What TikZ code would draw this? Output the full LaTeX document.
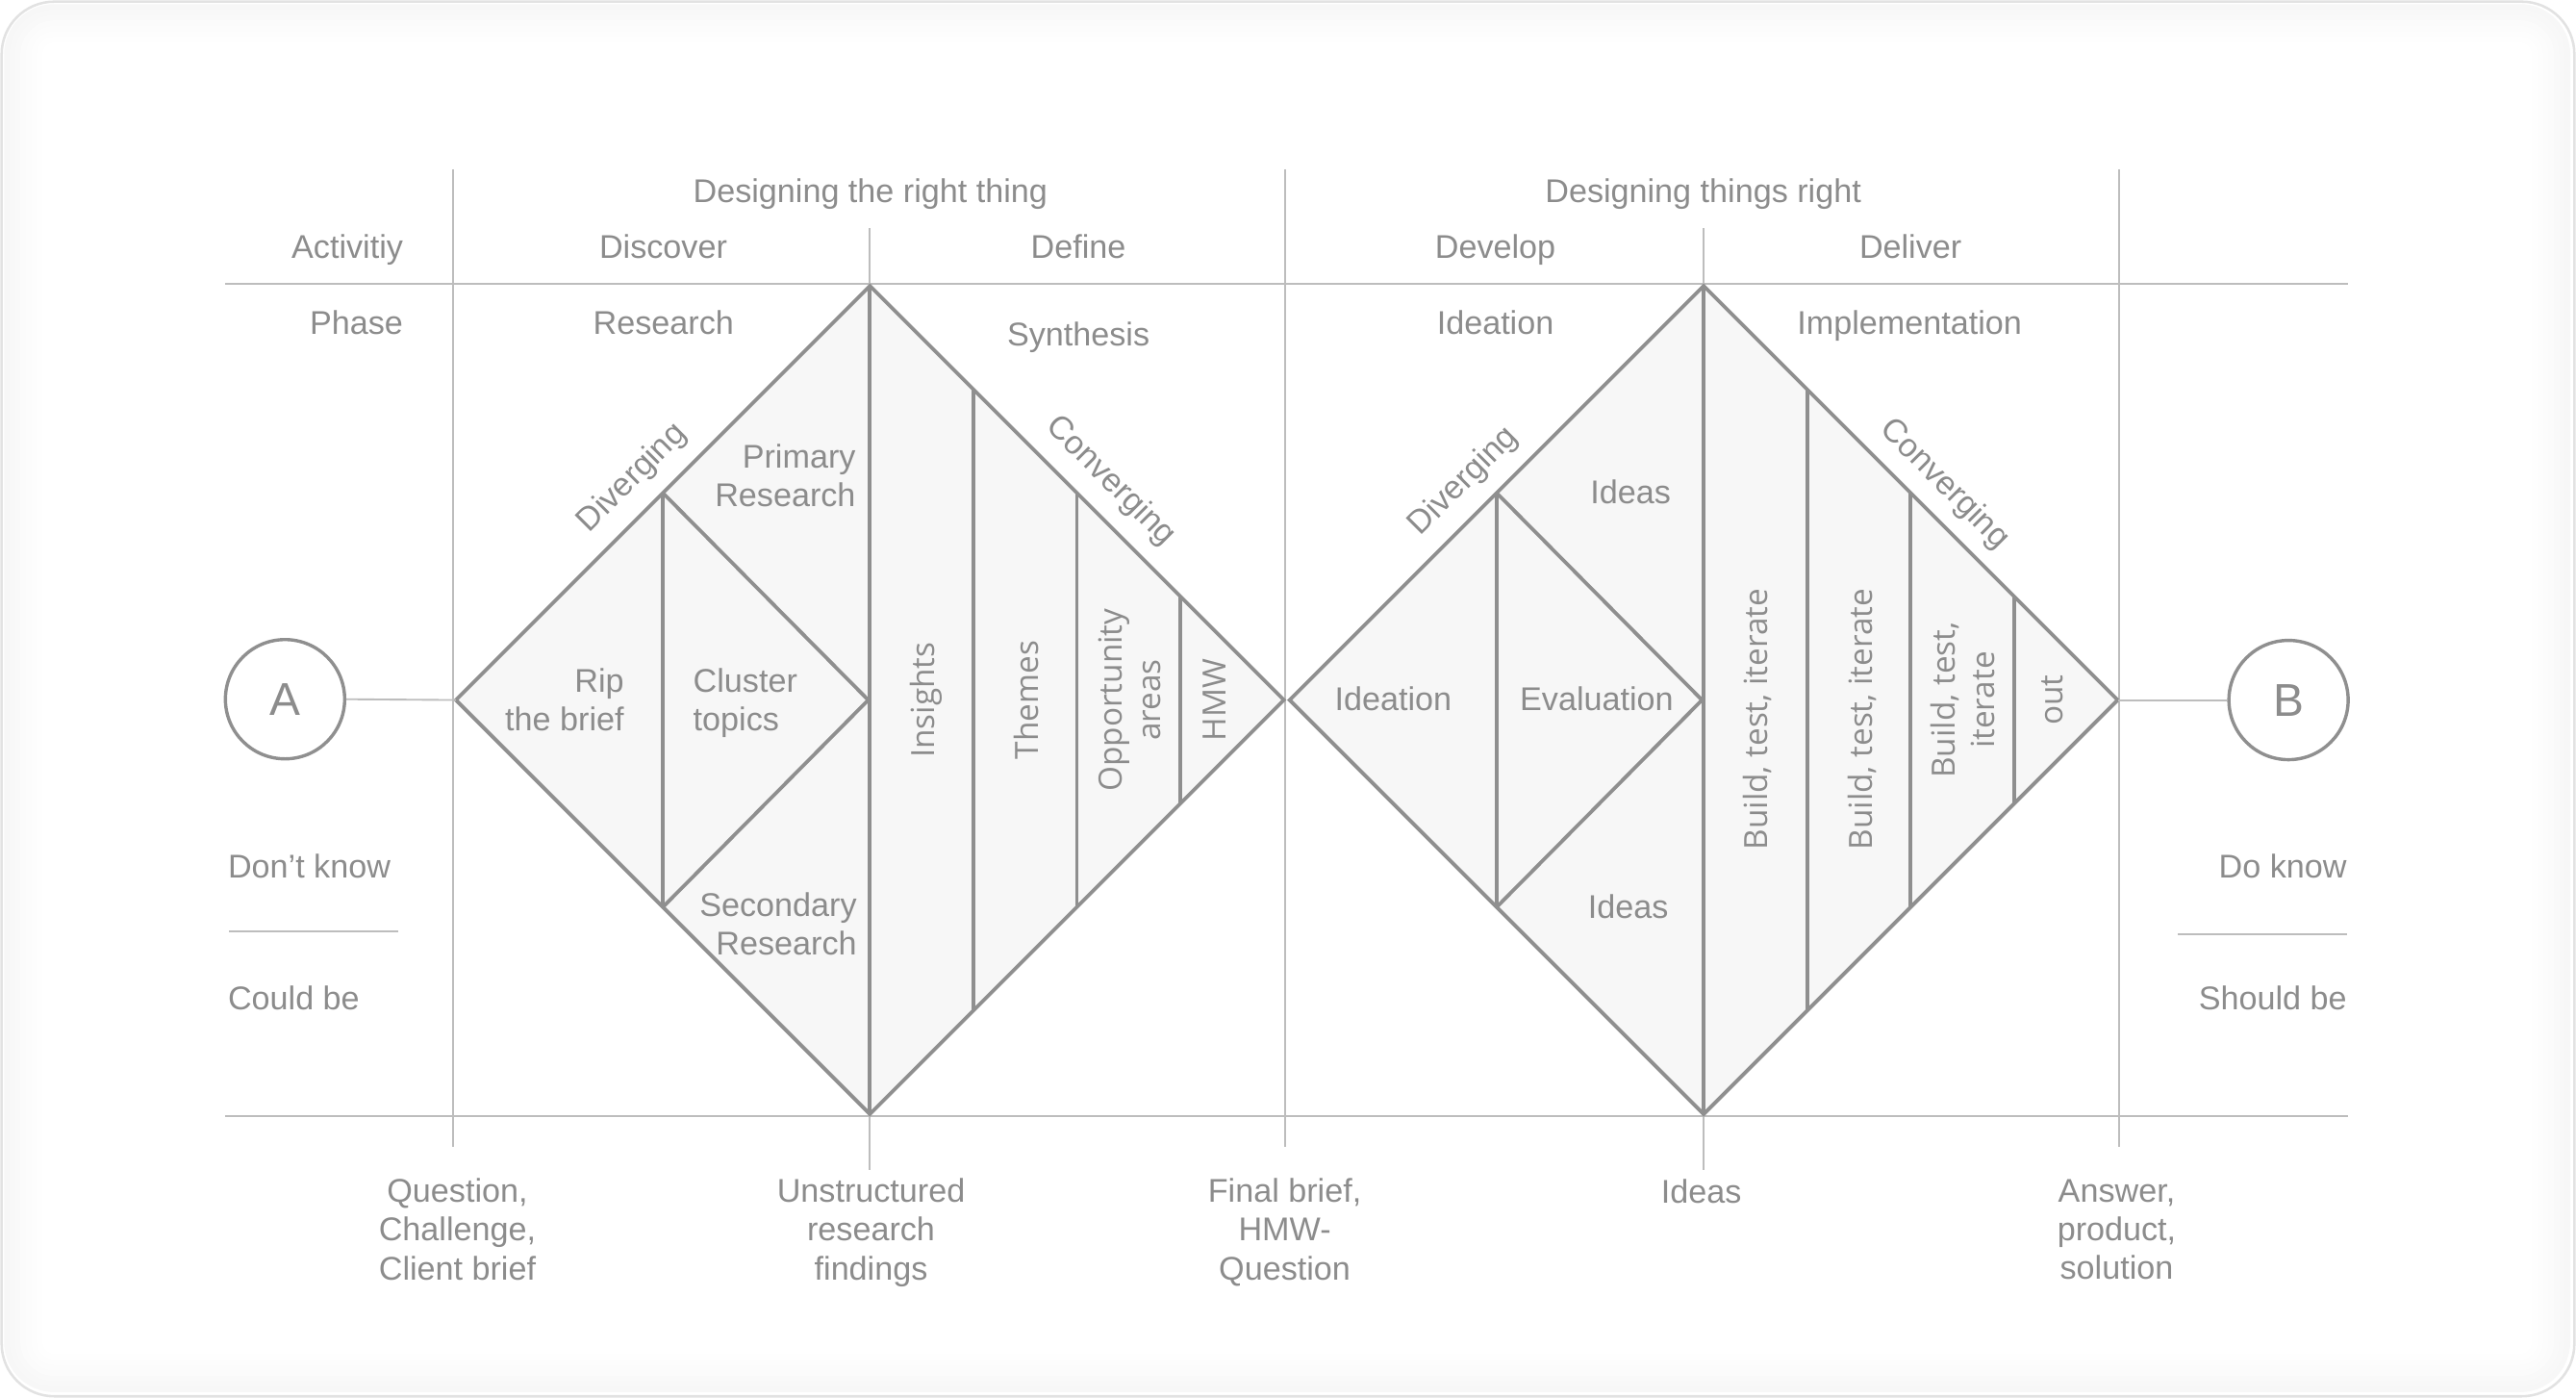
\documentclass[tikz,border=0pt]{standalone}
\usepackage{fontspec}
\setmainfont{Liberation Sans}
\newfontfamily\rotfont{Open Sans}
\definecolor{txtc}{HTML}{8C8C8C}
\definecolor{linec}{HTML}{8F8F8F}
\definecolor{gridc}{HTML}{BDBDBD}
\definecolor{fillc}{HTML}{F7F7F7}
\definecolor{framec}{HTML}{E2E2E2}
\newcommand{\ms}{\rule[-4.5pt]{0pt}{15pt}}
\tikzset{
  gridline/.style={draw=gridc, line width=1.1pt},
  dline/.style={draw=linec, line width=2.2pt, line join=miter},
  lbl/.style={text=txtc, font=\fontsize{20}{23.5}\selectfont, inner sep=0pt},
  rlbl/.style={text=txtc, font=\rotfont\fontsize{19.5}{23.5}\selectfont, inner sep=0pt, rotate=90},
  bigl/.style={text=txtc, font=\fontsize{28}{30}\selectfont, inner sep=0pt},
  circ/.style={circle, draw=linec, line width=2pt, minimum size=72.6pt, inner sep=0pt}
}
\begin{document}
\begin{tikzpicture}[x=1pt,y=-1pt]
\useasboundingbox (0,0) rectangle (1568,850.7);
% frame with soft inner shade
\foreach \i in {1,...,7} {
  \pgfmathsetmacro\d{1+3.3*\i}
  \pgfmathsetmacro\c{96.3+0.5*\i}
  \pgfmathsetmacro\r{33-\d}
  \draw[line width=3.6pt, draw=white!\c!black, rounded corners=\r pt] (\d,\d) rectangle (1567-\d,849.7-\d);
}
\draw[draw=framec, line width=1.5pt, rounded corners=32pt] (1,1) rectangle (1567,849.7);

% grid lines
\coordinate (hl1) at (137,172.5); \coordinate (hr1) at (1429,172.5);
\coordinate (hl2) at (137,679);   \coordinate (hr2) at (1429,679);
\draw[gridline] (hl1) -- (hr1);
\draw[gridline] (hl2) -- (hr2);
\draw[gridline] (276,103) -- (276,698);
\draw[gridline] (529.5,139) -- (529.5,712);
\draw[gridline] (782,103) -- (782,698);
\draw[gridline] (1037,139) -- (1037,712);
\draw[gridline] (1290,103) -- (1290,698);
\draw[gridline] (139.5,567) -- (242.6,567);
\draw[gridline] (1325.8,568.6) -- (1428.7,568.6);

% left diamond
\coordinate (L1) at (277.5,426); \coordinate (T1) at (529.5,174);
\coordinate (R1) at (781.5,426); \coordinate (B1) at (529.5,678);
\coordinate (iT1) at (403.5,300); \coordinate (iB1) at (403.5,552);
\coordinate (iR1) at (528.5,426);
\fill[fillc] (L1) -- (T1) -- (R1) -- (B1) -- cycle;
\draw[dline] (iT1) -- (iB1);
\draw[dline] (iT1) -- (iR1) -- (iB1);
\draw[dline] (T1) -- (B1);
\foreach \k in {1,2,3} {
  \draw[dline] (529.5+63*\k,174+63*\k) -- (529.5+63*\k,678-63*\k);
}
\draw[dline] (L1) -- (T1) -- (R1) -- (B1) -- cycle;

% right diamond
\coordinate (L2) at (785,426); \coordinate (T2) at (1037,174);
\coordinate (R2) at (1289,426); \coordinate (B2) at (1037,678);
\coordinate (iT2) at (911,300); \coordinate (iB2) at (911,552);
\coordinate (iR2) at (1036,426);
\fill[fillc] (L2) -- (T2) -- (R2) -- (B2) -- cycle;
\draw[dline] (iT2) -- (iB2);
\draw[dline] (iT2) -- (iR2) -- (iB2);
\draw[dline] (T2) -- (B2);
\foreach \k in {1,2,3} {
  \draw[dline] (1037+63*\k,174+63*\k) -- (1037+63*\k,678-63*\k);
}
\draw[dline] (L2) -- (T2) -- (R2) -- (B2) -- cycle;

% circles
\node[circ] (A) at (173.5,425.5) {};
\node[bigl] (Alab) at (A.center) {A};
\node[circ] (B) at (1393,426) {};
\node[bigl] (Blab) at (B.center) {B};
\draw[gridline] (A.east) -- (L1);
\draw[gridline] (B.west) -- (R2);

% headers
\node[lbl, anchor=base] (h1) at (529.8,123) {Designing the right thing};
\node[lbl, anchor=base] (h2) at (1036.7,123) {Designing things right};
\node[lbl, anchor=base east] (act) at (245.5,157.5) {Activitiy};
\node[lbl, anchor=base] (disc) at (403.7,157.5) {Discover};
\node[lbl, anchor=base] (defi) at (656.4,157.5) {Define};
\node[lbl, anchor=base] (deve) at (910.2,157.5) {Develop};
\node[lbl, anchor=base] (deli) at (1162.9,157.5) {Deliver};
\node[lbl, anchor=base east] (pha) at (245.5,203.2) {Phase};
\node[lbl, anchor=base] (rese) at (403.9,203.2) {Research};
\node[lbl, anchor=base] (synt) at (656.4,210.5) {Synthesis};
\node[lbl, anchor=base] (idea) at (910.2,203.2) {Ideation};
\node[lbl, anchor=base] (impl) at (1162.3,203.2) {Implementation};

% edge labels
\node[lbl, rotate=45] (dv1) at (385,291) {Diverging};
\node[lbl, rotate=-45] (cv1) at (676,293) {Converging};
\node[lbl, rotate=45] (dv2) at (891,293) {Diverging};
\node[lbl, rotate=-45] (cv2) at (1183.5,294.8) {Converging};

% left diamond labels
\node[lbl, align=right, anchor=east] (prim) at (521,291.8) {\ms Primary\\Research\ms};
\node[lbl, align=right, anchor=east] (rip) at (380,428.1) {\ms Rip\\the brief\ms};
\node[lbl, align=left, anchor=west] (clus) at (421.8,428.1) {\ms Cluster\\topics\ms};
\node[lbl, align=right, anchor=east] (seco) at (521.7,564.5) {\ms Secondary\\Research\ms};
\node[rlbl, anchor=base] (insi) at (568.9,426) {Insights};
\node[rlbl, anchor=base] (them) at (631.9,426) {Themes};
\node[rlbl, align=center] (oppo) at (687.7,426) {Opportunity\\areas};
\node[rlbl, anchor=base] (hmw) at (746.5,426) {HMW};

% right diamond labels
\node[lbl, anchor=base] (idin) at (848,432.5) {Ideation};
\node[lbl, anchor=base] (eval) at (971.9,432.5) {Evaluation};
\node[lbl, anchor=base] (ideat) at (992.5,306.3) {Ideas};
\node[lbl, anchor=base] (ideab) at (991,558.6) {Ideas};
\node[rlbl, anchor=base] (bti1) at (1075.7,437.7) {Build, test, iterate};
\node[rlbl, anchor=base] (bti2) at (1139.8,437.7) {Build, test, iterate};
\node[rlbl, align=center, font=\rotfont\fontsize{19.5}{24.4}\selectfont] (bti3) at (1194.7,426) {Build, test,\\iterate};
\node[rlbl, anchor=base] (out) at (1255.9,426) {out};

% side labels
\node[lbl, anchor=base west] (dk) at (138.6,534) {Don’t know};
\node[lbl, anchor=base west] (cb) at (138.6,614.5) {Could be};
\node[lbl, anchor=base east] (dok) at (1428.6,534) {Do know};
\node[lbl, anchor=base east] (sb) at (1428.6,614.5) {Should be};

% bottom labels
\node[lbl, align=center] (q) at (278.4,750.25) {\ms Question,\\Challenge,\\Client brief\ms};
\node[lbl, align=center] (u) at (530.2,750.25) {\ms Unstructured\\research\\findings\ms};
\node[lbl, align=center] (f) at (782,750.25) {\ms Final brief,\\HMW-\\Question\ms};
\node[lbl, anchor=base] (ib) at (1035.5,732) {Ideas};
\node[lbl, align=center] (ans) at (1288.4,750.25) {\ms Answer,\\product,\\solution\ms};
\end{tikzpicture}
\end{document}
